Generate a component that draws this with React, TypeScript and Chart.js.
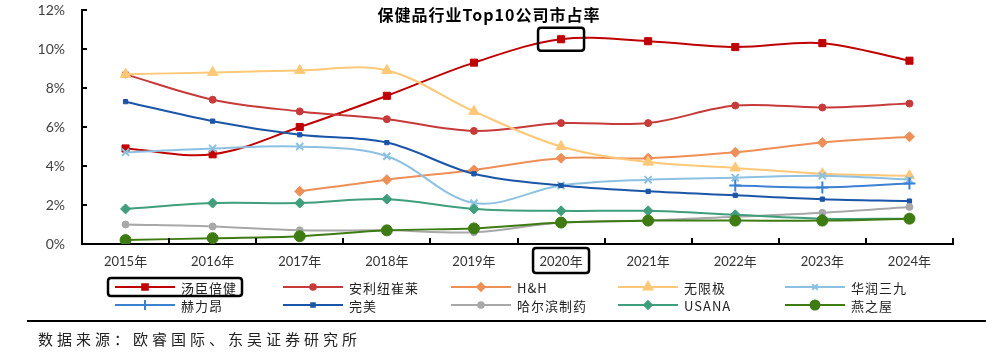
import React, { useEffect, useRef } from "react";
import { Chart, registerables } from "chart.js";
import { drawPoint } from "chart.js/helpers";

Chart.register(...registerables);

const years = ["2015年", "2016年", "2017年", "2018年", "2019年", "2020年", "2021年", "2022年", "2023年", "2024年"];
const yTicks = [0, 2, 4, 6, 8, 10, 12];

const tangchen = [4.9, 4.6, 6.0, 7.6, 9.3, 10.5, 10.4, 10.1, 10.3, 9.4];
const amway = [8.7, 7.4, 6.8, 6.4, 5.8, 6.2, 6.2, 7.1, 7.0, 7.2];
const hh = [null, null, 2.7, 3.3, 3.8, 4.4, 4.4, 4.7, 5.2, 5.5];
const infinitus = [8.7, 8.8, 8.9, 8.9, 6.8, 5.0, 4.2, 3.9, 3.6, 3.5];
const crc999 = [4.7, 4.9, 5.0, 4.5, 2.1, 3.0, 3.3, 3.4, 3.5, 3.3];
const haleon = [null, null, null, null, null, null, null, 3.0, 2.9, 3.1];
const perfect = [7.3, 6.3, 5.6, 5.2, 3.6, 3.0, 2.7, 2.5, 2.3, 2.2];
const harbin = [1.0, 0.9, 0.7, 0.7, 0.6, 1.1, 1.2, 1.4, 1.6, 1.9];
const usana = [1.8, 2.1, 2.1, 2.3, 1.8, 1.7, 1.7, 1.5, 1.3, 1.3];
const yanzhiwu = [0.2, 0.3, 0.4, 0.7, 0.8, 1.1, 1.2, 1.2, 1.2, 1.3];

const seriesNames = ["汤臣倍健", "安利纽崔莱", "H&H", "无限极", "华润三九", "赫力昂", "完美", "哈尔滨制药", "USANA", "燕之屋"];
const seriesData = [tangchen, amway, hh, infinitus, crc999, haleon, perfect, harbin, usana, yanzhiwu];
const seriesColors = ["#C00000", "#C63A3A", "#EE8F57", "#FFC877", "#8DC1E1", "#3D82D2", "#1B55A8", "#A8A8A8", "#3F9E7B", "#3E7B12"];
const seriesStyles = ["rect", "circle", "rectRot", "triangle", "crossRot", "cross", "rect", "circle", "rectRot", "circle"];
const seriesRadius = [5, 3.5, 5, 6, 5, 6, 3, 3.5, 5, 5.5];
const legendRadius = [4, 2.8, 3.8, 5, 3.8, 5, 2.5, 2.8, 3.8, 4.5];

const title = "保健品行业Top10公司市占率";
const source = "数据来源：欧睿国际、东吴证券研究所";
const highlightIndex = 5;

const LATIN = '"Lato", "Noto Sans CJK SC", sans-serif';
const CJK = '"Noto Sans CJK SC", sans-serif';

function roundRect(ctx: CanvasRenderingContext2D, x: number, y: number, w: number, h: number, r: number) {
  ctx.beginPath();
  ctx.moveTo(x + r, y);
  ctx.lineTo(x + w - r, y);
  ctx.quadraticCurveTo(x + w, y, x + w, y + r);
  ctx.lineTo(x + w, y + h - r);
  ctx.quadraticCurveTo(x + w, y + h, x + w - r, y + h);
  ctx.lineTo(x + r, y + h);
  ctx.quadraticCurveTo(x, y + h, x, y + h - r);
  ctx.lineTo(x, y + r);
  ctx.quadraticCurveTo(x, y, x + r, y);
  ctx.closePath();
}

const decorPlugin = {
  id: "decor",
  afterDraw(chart: any) {
    const ctx: CanvasRenderingContext2D = chart.ctx;
    const xs = chart.scales.x;
    const ys = chart.scales.y;
    const area = chart.chartArea;
    ctx.save();

    // inward tick marks
    ctx.strokeStyle = "#000";
    ctx.lineWidth = 2;
    ctx.beginPath();
    yTicks.forEach((v) => {
      const y = Math.round(ys.getPixelForValue(v));
      ctx.moveTo(area.left, y);
      ctx.lineTo(area.left + 5, y);
    });
    for (let i = 0; i <= years.length; i++) {
      let x: number;
      if (i === 0) x = area.left;
      else if (i === years.length) x = area.right;
      else x = (xs.getPixelForValue(i - 1) + xs.getPixelForValue(i)) / 2;
      x = Math.round(x);
      ctx.moveTo(x, area.bottom);
      ctx.lineTo(x, area.bottom - 6);
    }
    ctx.stroke();

    // title
    ctx.fillStyle = "#000";
    ctx.font = `bold 16px ${CJK}`;
    (ctx as any).letterSpacing = "1px";
    ctx.textAlign = "center";
    ctx.textBaseline = "middle";
    ctx.fillText(title, 489, 15);

    // highlight boxes
    const meta = chart.getDatasetMeta(0);
    const pt = meta.data[highlightIndex];
    ctx.lineWidth = 2.5;
    ctx.strokeStyle = "#000";
    roundRect(ctx, pt.x - 23, pt.y - 11.5, 46, 23, 3);
    ctx.stroke();
    const lx = xs.getPixelForValue(highlightIndex);
    roundRect(ctx, lx - 28, area.bottom + 4, 56, 25, 3);
    ctx.stroke();

    // legend
    const colX = [115, 283, 451, 618, 785];
    const rowY = [287, 305];
    ctx.textAlign = "left";
    ctx.font = `13px ${CJK}`;
    (ctx as any).letterSpacing = "1px";
    chart.data.datasets.forEach((ds: any, i: number) => {
      const cx = colX[i % 5];
      const cy = rowY[Math.floor(i / 5)];
      ctx.strokeStyle = ds.borderColor;
      ctx.lineWidth = 2;
      ctx.beginPath();
      ctx.moveTo(cx, cy);
      ctx.lineTo(cx + 60, cy);
      ctx.stroke();
      ctx.fillStyle = ds.borderColor;
      drawPoint(ctx, { pointStyle: ds.pointStyle, radius: legendRadius[i], rotation: 0, borderWidth: 2 } as any, cx + 30, cy);
      ctx.fillStyle = "#222";
      ctx.fillText(ds.label, cx + 66, cy + 1);
    });
    // legend highlight box
    ctx.strokeStyle = "#000";
    ctx.lineWidth = 2.5;
    roundRect(ctx, 108, 278, 134, 18, 3);
    ctx.stroke();

    // separator and source
    ctx.lineWidth = 2;
    ctx.beginPath();
    ctx.moveTo(27, 321);
    ctx.lineTo(986, 321);
    ctx.stroke();
    ctx.fillStyle = "#222";
    ctx.font = `15px ${CJK}`;
    (ctx as any).letterSpacing = "4px";
    ctx.textBaseline = "middle";
    ctx.fillText(source, 38, 339);
    ctx.restore();
  },
};

export default function App() {
  const ref = useRef<HTMLCanvasElement>(null);
  useEffect(() => {
    document.body.style.margin = "0";
    const datasets = seriesData.map((d, i) => ({
      label: seriesNames[i],
      data: d,
      borderColor: seriesColors[i],
      backgroundColor: seriesColors[i],
      pointBackgroundColor: seriesColors[i],
      pointBorderColor: seriesColors[i],
      pointStyle: seriesStyles[i],
      pointRadius: seriesRadius[i],
      pointBorderWidth: seriesStyles[i].startsWith("cross") ? 2 : 1,
      borderWidth: 2,
      tension: 0.35,
      order: -i,
      spanGaps: false,
    }));
    const chart = new Chart(ref.current!, {
      type: "line",
      data: { labels: years, datasets },
      plugins: [decorPlugin],
      options: {
        animation: false,
        responsive: false,
        events: [],
        layout: { padding: { left: 0, right: 43, top: 10, bottom: 0 } },
        plugins: { legend: { display: false }, title: { display: false }, tooltip: { enabled: false } },
        scales: {
          x: {
            offset: true,
            grid: { display: false, offset: true },
            border: { display: true, color: "#000", width: 2 },
            ticks: { color: "#333", font: { family: LATIN, size: 13 }, padding: 2, maxRotation: 0 },
            afterFit: (s: any) => { s.height = 113; s.paddingLeft = 0; s.paddingRight = 0; },
          },
          y: {
            min: 0,
            max: 12,
            grid: { display: false },
            border: { display: true, color: "#000", width: 2 },
            ticks: {
              stepSize: 2,
              color: "#404040",
              font: { family: LATIN, size: 14 },
              padding: 9,
              callback: (v: any) => `${v}%`,
            },
            afterFit: (s: any) => { s.width = 82; s.paddingTop = 0; s.paddingBottom = 0; },
          },
        },
      },
    } as any);
    return () => chart.destroy();
  }, []);
  return <canvas ref={ref} width={996} height={357} style={{ display: "block", width: 996, height: 357 }} />;
}
